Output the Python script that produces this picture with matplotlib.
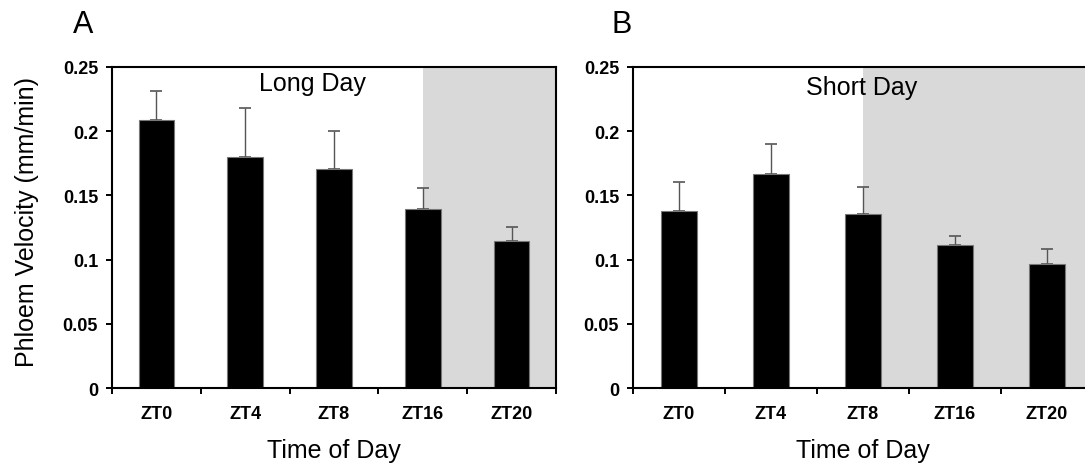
import matplotlib.pyplot as plt
import numpy as np

plt.rcParams['font.family'] = ['Liberation Sans', 'DejaVu Sans']

# Data
times = ['ZT0', 'ZT4', 'ZT8', 'ZT16', 'ZT20']
long_day = [0.209, 0.1795, 0.1705, 0.139, 0.1145]
long_day_err = [0.022, 0.0385, 0.030, 0.0166, 0.0107]
short_day = [0.138, 0.1665, 0.1357, 0.111, 0.0967]
short_day_err = [0.0227, 0.0232, 0.0211, 0.0075, 0.0115]

# index of the category where darkness starts (shading begins at its centre)
long_dark_start = 3
short_dark_start = 2


def plot_panel(ax, values, errors, dark_start):
    x = np.arange(len(times))
    ax.axvspan(dark_start, len(times) - 0.5, color='#d9d9d9', lw=0, zorder=0)
    ax.bar(x, values, width=0.4, color='black', edgecolor='#777777',
           linewidth=0.8, zorder=2)
    ax.errorbar(x, values, yerr=[np.zeros(len(errors)), errors], fmt='none',
                ecolor='#555555', elinewidth=1.0, capsize=4, capthick=1.2,
                zorder=1)
    ax.set_xlim(-0.5, len(times) - 0.5)
    ax.set_ylim(0, 0.25)

    # ticks between categories, labels at category centres
    ax.set_xticks(np.arange(-0.5, len(times), 1.0))
    ax.set_xticklabels([])
    ax.set_xticks(x, minor=True)
    ax.set_xticklabels(times, minor=True, fontsize=13, fontweight='bold')
    ax.tick_params(axis='x', which='major', direction='out', length=4, width=1.4)
    ax.tick_params(axis='x', which='minor', length=0, pad=12)

    ax.set_yticks([0, 0.05, 0.1, 0.15, 0.2, 0.25])
    ax.set_yticklabels(['0', '0.05', '0.1', '0.15', '0.2', '0.25'],
                       fontsize=13, fontweight='bold')
    ax.tick_params(axis='y', direction='out', length=4, width=1.4, pad=6)

    for s in ax.spines.values():
        s.set_linewidth(1.5)
        s.set_zorder(3)

    ax.set_xlabel('Time of Day', fontsize=18, labelpad=12)
    return ax


fig = plt.figure(figsize=(10.85, 4.64), dpi=100)
axA = fig.add_axes([0.1032, 0.1616, 0.4092, 0.692])
axB = fig.add_axes([0.5834, 0.1616, 0.424, 0.692])

plot_panel(axA, long_day, long_day_err, long_dark_start)
plot_panel(axB, short_day, short_day_err, short_dark_start)

axA.text(1.76, 0.2375, 'Long Day', fontsize=18, ha='center', va='center', zorder=4)
axB.text(1.98, 0.234, 'Short Day', fontsize=18, ha='center', va='center', zorder=4)

axA.set_ylabel('Phloem Velocity (mm/min)', fontsize=18)
axA.yaxis.set_label_coords(-0.165, 0.52)

fig.text(83 / 1085, 1 - 25 / 464, 'A', fontsize=22, ha='center', va='center')
fig.text(622 / 1085, 1 - 25 / 464, 'B', fontsize=22, ha='center', va='center')

fig.savefig('out.png', dpi=100)
